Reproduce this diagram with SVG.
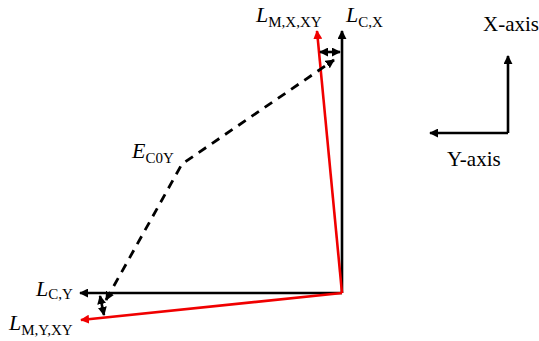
<svg xmlns="http://www.w3.org/2000/svg" width="539" height="341" viewBox="0 0 539 341">
<style>
.k{stroke:#000;stroke-width:2.6;fill:none}
.r{stroke:#f00000;stroke-width:2.6;fill:none}
.d{stroke:#000;stroke-width:2.8;fill:none;stroke-dasharray:9,7}
.t{font-family:"Liberation Serif","Times New Roman",serif;fill:#000}
.L{font-style:italic;font-size:22px}
.s{font-size:15px}
.ax{font-size:21px}
</style>
<defs>
<marker id="ak" viewBox="0 0 10 10" refX="9" refY="5" markerWidth="9" markerHeight="9" markerUnits="userSpaceOnUse" orient="auto-start-reverse"><path d="M0,0 L10,5 L0,10 z" fill="#000"/></marker>
<marker id="ar" viewBox="0 0 10 10" refX="9" refY="5" markerWidth="9" markerHeight="9" markerUnits="userSpaceOnUse" orient="auto"><path d="M0,0 L10,5 L0,10 z" fill="#f00000"/></marker>
</defs>
<g id="connectors">
<line class="k" x1="342" y1="293" x2="342" y2="31" marker-end="url(#ak)"/>
<line class="k" x1="342" y1="293" x2="80" y2="293" marker-end="url(#ak)"/>
<line class="r" x1="342" y1="293" x2="317" y2="31" marker-end="url(#ar)"/>
<line class="r" x1="342" y1="293" x2="81" y2="320" marker-end="url(#ar)"/>
<line class="k" x1="320" y1="52" x2="340" y2="52" marker-start="url(#ak)" marker-end="url(#ak)"/>
<line class="k" x1="100" y1="296" x2="104" y2="315" marker-start="url(#ak)" marker-end="url(#ak)"/>
<polyline class="d" points="106,300 182,164 334,60" marker-start="url(#ak)" marker-end="url(#ak)"/>
<line class="k" x1="508" y1="133" x2="508" y2="56" marker-end="url(#ak)"/>
<line class="k" x1="508" y1="133" x2="430" y2="133" marker-end="url(#ak)"/>
</g>
<g id="label-LMXXY"><text class="t" x="256" y="22"><tspan class="L">L</tspan><tspan class="s" dy="5">M,X,XY</tspan></text></g>
<g id="label-LCX"><text class="t" x="346" y="22"><tspan class="L">L</tspan><tspan class="s" dy="5">C,X</tspan></text></g>
<g id="label-EC0Y"><text class="t" x="132" y="158"><tspan class="L">E</tspan><tspan class="s" dy="5">C0Y</tspan></text></g>
<g id="label-LCY"><text class="t" x="36" y="296"><tspan class="L">L</tspan><tspan class="s" dy="3">C,Y</tspan></text></g>
<g id="label-LMYXY"><text class="t" x="9" y="330"><tspan class="L">L</tspan><tspan class="s" dy="5">M,Y,XY</tspan></text></g>
<g id="label-Xaxis"><text class="t ax" x="483" y="31">X-axis</text></g>
<g id="label-Yaxis"><text class="t ax" x="447" y="166">Y-axis</text></g>
</svg>
